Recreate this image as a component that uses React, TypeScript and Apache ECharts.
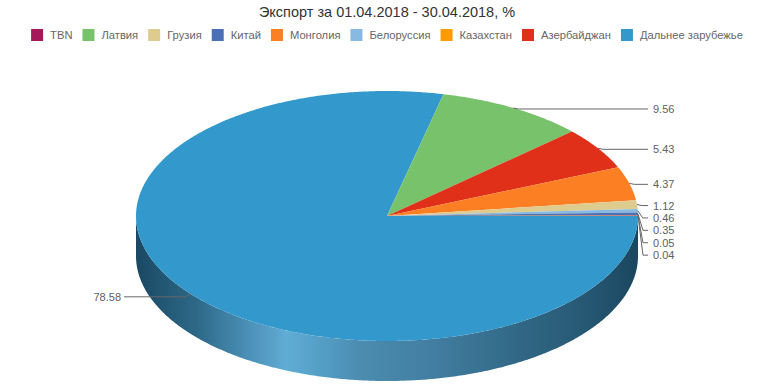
import React, { useEffect, useRef } from "react";
import * as echarts from "echarts";

const TITLE = "Экспорт за 01.04.2018 - 30.04.2018, %";
const legendNames = ["TBN", "Латвия", "Грузия", "Китай", "Монголия", "Белоруссия", "Казахстан", "Азербайджан", "Дальнее зарубежье"];
const legendColors = ["#a5185a", "#77c26b", "#ddcc8e", "#4a70b6", "#fd7f23", "#88b9e2", "#ff9a00", "#e0301a", "#3399cc"];
// slices in drawing order (clockwise, from the start angle)
const sliceNames = ["Дальнее зарубежье", "Латвия", "Азербайджан", "Монголия", "Грузия", "Белоруссия", "Китай", "TBN", "Казахстан"];
const sliceValues = [78.58, 9.56, 5.43, 4.37, 1.12, 0.46, 0.35, 0.05, 0.04];

const START_ANGLE = 90; // degrees, clockwise from top
const CX = 387, CY = 216, RX = 251, RY = 125, DEPTH = 40;
const LABEL_GAP = 15;
const LABEL_STEP = 12.4;

const SIDE_STOPS = [
  [0, "#1a4862"], [0.12, "#2d6987"], [0.24, "#5096be"], [0.3, "#5facd4"], [0.36, "#55a0c8"],
  [0.45, "#4b8caf"], [0.6, "#417da0"], [0.75, "#326987"], [0.9, "#265873"], [1, "#1a465f"],
];

const colorOf = (name: string) => legendColors[legendNames.indexOf(name)];

const proj = (deg: number, dy = 0): number[] => {
  const t = (deg * Math.PI) / 180;
  return [CX + RX * Math.sin(t), CY - RY * Math.cos(t) + dy];
};

const total = sliceValues.reduce((a, b) => a + b, 0);
const angles: number[][] = [];
{
  let acc = START_ANGLE;
  sliceValues.forEach((v) => {
    const a = (v / total) * 360;
    angles.push([acc, acc + a]);
    acc += a;
  });
}

// label layout
type Lbl = { line: number[][]; tx: number; ty: number; align: string; text: string };
const labels: Lbl[] = [];
{
  const right: number[] = [];
  const left: number[] = [];
  const mids = angles.map((a) => (((a[0] + a[1]) / 2) % 360 + 360) % 360);
  mids.forEach((m, i) => (m < 180 ? right : left).push(i));
  right.sort((p, q) => mids[p] - mids[q]);
  let prev = -Infinity;
  right.forEach((i) => {
    const anc = proj(mids[i]);
    const ly = Math.max(anc[1] + 1, prev + LABEL_STEP);
    prev = ly;
    const tx = CX + RX + LABEL_GAP;
    labels[i] = {
      line: [anc, [anc[0] + 5, ly], [tx - 5, ly]],
      tx, ty: ly, align: "left", text: sliceValues[i].toFixed(2),
    };
  });
  left.forEach((i) => {
    const anc = proj(mids[i]);
    const ly = anc[1] + 3;
    const tx = CX - RX - LABEL_GAP;
    labels[i] = {
      line: [anc, [anc[0] - 5, ly], [tx + 3, ly]],
      tx, ty: ly, align: "right", text: sliceValues[i].toFixed(2),
    };
  });
}

const arcPoints = (a0: number, a1: number, dy = 0) => {
  const pts: number[][] = [];
  const steps = Math.max(2, Math.ceil(Math.abs(a1 - a0) / 0.5));
  for (let k = 0; k <= steps; k++) pts.push(proj(a0 + ((a1 - a0) * k) / steps, dy));
  return pts;
};

const sideRender = (params: any, api: any) => {
  const i = api.value(0);
  const [a0, a1] = angles[i];
  const children: any[] = [];
  for (const k of [-360, 0, 360]) {
    const lo = Math.max(a0, 90 + k);
    const hi = Math.min(a1, 270 + k);
    if (hi > lo) {
      const top = arcPoints(lo, hi);
      const bot = arcPoints(hi, lo, DEPTH);
      children.push({
        type: "polygon",
        shape: { points: top.concat(bot) },
        style: {
          fill: {
            type: "linear", x: CX - RX, y: 0, x2: CX + RX, y2: 0, global: true,
            colorStops: SIDE_STOPS.map(([o, c]) => ({ offset: o, color: c })),
          },
        },
      });
    }
  }
  return { type: "group", children };
};

const sliceRender = (params: any, api: any) => {
  const i = api.value(0);
  const [a0, a1] = angles[i];
  const pts = [[CX, CY]].concat(arcPoints(a0, a1));
  const L = labels[i];
  return {
    type: "group",
    children: [
      { type: "polygon", shape: { points: pts }, style: { fill: colorOf(sliceNames[i]) } },
      {
        type: "polyline", z2: 10,
        shape: { points: L.line },
        style: { stroke: "#666666", lineWidth: 1, fill: null },
      },
      {
        type: "text", z2: 11, x: L.tx, y: L.ty,
        style: {
          text: L.text, fill: "#606060", fontSize: 11, lineHeight: 11,
          fontFamily: "Liberation Sans, Arial, sans-serif",
          textAlign: L.align, textVerticalAlign: "middle", align: L.align, verticalAlign: "middle",
        },
      },
    ],
  };
};

export default function App() {
  const ref = useRef<HTMLDivElement>(null);
  useEffect(() => {
    document.body.style.margin = "0";
    const chart = echarts.init(ref.current!, null, { renderer: "svg" });
    const series: any[] = [
      {
        type: "custom", name: "__side", coordinateSystem: "none", z: 1, silent: true,
        data: sliceValues.map((_, i) => [i]), renderItem: sideRender,
      },
    ];
    sliceNames.forEach((n, i) => {
      series.push({
        type: "custom", name: n, coordinateSystem: "none", z: 2, silent: true,
        itemStyle: { color: colorOf(n) },
        data: [[i]], renderItem: sliceRender,
      });
    });
    chart.setOption({
      animation: false,
      title: {
        text: TITLE, left: "center", top: 4, padding: 0,
        textStyle: { fontSize: 14.5, fontWeight: "normal", color: "#333333", fontFamily: "Liberation Sans, Arial, sans-serif" },
      },
      legend: {
        data: legendNames.map((n) => ({ name: n, icon: "rect", itemStyle: { color: colorOf(n) } })),
        top: 29, left: "center", padding: 0,
        itemWidth: 12, itemHeight: 12, itemGap: 10,
        selectedMode: false,
        textStyle: { fontSize: 11.2, color: "#666666", fontFamily: "Liberation Sans, Arial, sans-serif", padding: [0, 0, 0, 2] },
      },
      series,
    });
    return () => chart.dispose();
  }, []);
  return <div ref={ref} style={{ width: 774, height: 387 }} />;
}
